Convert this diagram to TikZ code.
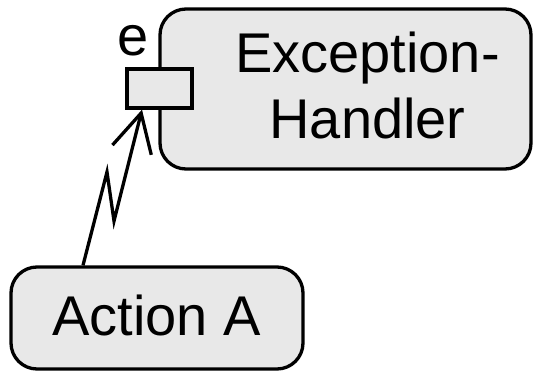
\documentclass[tikz,border=0pt]{standalone}
\usepackage{fontspec}
\setmainfont{Liberation Sans}
\usetikzlibrary{arrows.meta,calc}
\definecolor{boxfill}{RGB}{232,232,232}
\begin{document}
\begin{tikzpicture}[x=1pt,y=-1pt,line width=3.3pt,
  box/.style={draw=black,fill=boxfill,rounded corners=26pt,inner sep=0pt},
  pinbox/.style={draw=black,fill=boxfill,inner sep=0pt},
  lbl/.style={font=\fontsize{56}{66}\selectfont,inner sep=0pt,anchor=base},
  flow/.style={-{Straight Barb[length=38pt,width=40pt]}}]
\useasboundingbox (0,0) rectangle (533,372);
\node[box,minimum width=371pt,minimum height=160pt] (handler) at (345.5,89) {};
\node[box,minimum width=292pt,minimum height=102pt] (action) at (157,318) {};
\node[pinbox,minimum width=65pt,minimum height=39pt] (pin) at (159.5,88.5) {};
\node[lbl] (t1) at (367.5,72) {Exception-};
\node[lbl] (t2) at (367.5,138) {Handler};
\node[lbl] (t3) at (156.5,335) {Action A};
\node[font=\fontsize{56}{66}\selectfont,inner sep=0pt,anchor=base] (elabel) at (132.7,55) {e};
\coordinate (z1) at (107,172);
\coordinate (z2) at (114,221);
\draw[flow] ($(action.north)+(-74,0)$) -- (z1) -- (z2) -- ($(pin.south)+(-17.5,0)$);
\end{tikzpicture}
\end{document}
